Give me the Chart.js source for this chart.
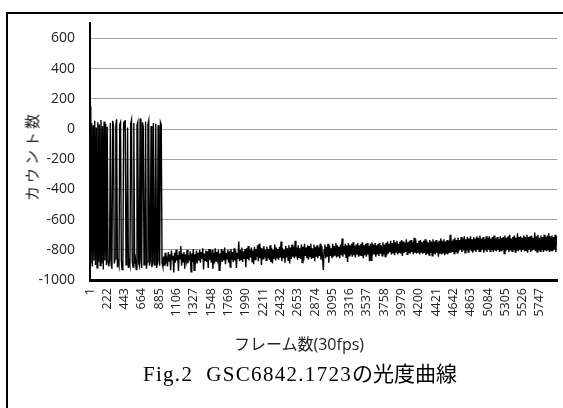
<!DOCTYPE html>
<html><head><meta charset="utf-8">
<script src="https://cdn.jsdelivr.net/npm/chart.js@4"></script>
<style>
html,body{margin:0;padding:0;background:#fff;width:563px;height:408px;overflow:hidden;position:relative}
#frame{position:absolute;left:6px;top:12px;width:700px;height:500px;border-top:2px solid #000;border-left:2px solid #000;box-sizing:border-box}
#wrap{position:absolute;left:0;top:0;width:563px;height:408px}
.t{position:absolute;white-space:nowrap;color:#000;line-height:1}
#ytitle{left:31px;top:156px;transform:translate(-50%,-50%) rotate(-90deg);font:15px "Noto Sans CJK JP",sans-serif;letter-spacing:3px;color:#222}
#xtitle{left:299px;top:343px;transform:translate(-50%,-50%);font:16px "Open Sans","Noto Sans CJK JP",sans-serif;color:#222}
#caption{left:300px;top:372px;transform:translate(-50%,-50%);font:21px "Liberation Serif","Noto Sans CJK JP",serif}
#caption .lat{letter-spacing:1.3px}
</style></head><body>
<div id="frame"></div>
<div id="wrap"><canvas id="c" width="563" height="408"></canvas></div>
<div class="t" id="ytitle">カウント数</div>
<div class="t" id="xtitle">フレーム数(30fps)</div>
<div class="t" id="caption"><span class="lat">Fig.2&nbsp;&nbsp;GSC6842.1723</span>の光度曲線</div>
<script>
const FRAME_STEP = 10;
const counts = [
150,-890,40,-910,25,-870,55,-900,10,-920,
45,-880,30,-905,60,-890,20,-930,50,-870,
35,-900,15,-880,-910,-865,40,-895,-925,55,
20,-890,-860,25,65,-915,-880,-905,30,45,
-870,-930,-885,50,20,60,-900,-865,10,-920,
-880,-905,35,60,-875,-915,40,-890,-860,-930,
25,45,-885,-905,70,-870,-920,45,15,-900,
-865,50,-925,-880,30,55,-905,-870,20,-915,
-885,40,-900,-875,35,-920,-890,25,-870,-905,
45,30,-885,-910,-845,-905,-820,-880,-860,-910,
-815,-875,-830,-935,-805,-865,-840,-950,-820,-885,
-800,-870,-835,-940,-810,-860,-775,-905,-825,-880,
-815,-925,-830,-870,-800,-890,-845,-860,-810,-945,
-825,-880,-795,-935,-830,-865,-805,-890,-820,-870,
-800,-885,-815,-860,-790,-930,-825,-870,-805,-880,
-810,-920,-795,-865,-830,-885,-800,-925,-820,-890,
-790,-875,-815,-860,-800,-935,-825,-865,-795,-880,
-805,-870,-785,-895,-820,-860,-800,-885,-810,-915,
-795,-865,-815,-880,-790,-870,-805,-920,-820,-860,
-745,-875,-800,-865,-785,-880,-810,-860,-795,-915,
-790,-860,-775,-870,-800,-850,-785,-880,-805,-895,
-780,-865,-795,-845,-770,-875,-760,-855,-785,-900,
-790,-860,-775,-850,-800,-870,-780,-855,-795,-865,
-770,-880,-790,-890,-800,-860,-765,-870,-785,-855,
-795,-865,-780,-850,-745,-875,-790,-855,-800,-885,
-775,-850,-790,-870,-770,-890,-785,-860,-765,-845,
-780,-855,-740,-845,-785,-865,-770,-850,-790,-860,
-765,-885,-780,-870,-760,-840,-785,-855,-770,-865,
-775,-845,-760,-860,-790,-850,-765,-875,-780,-845,
-770,-855,-785,-840,-760,-865,-775,-850,-934,-800,
-765,-855,-780,-845,-760,-885,-775,-840,-790,-855,
-760,-845,-775,-835,-755,-850,-770,-840,-780,-855,
-765,-835,-725,-845,-775,-830,-760,-850,-770,-880,
-755,-840,-770,-830,-760,-845,-750,-835,-775,-850,
-765,-830,-755,-845,-770,-835,-760,-840,-750,-855,
-770,-835,-760,-845,-755,-830,-775,-875,-760,-870,
-750,-835,-765,-825,-755,-845,-770,-830,-760,-840,
-755,-825,-770,-840,-750,-830,-765,-845,-755,-835,
-745,-825,-760,-815,-740,-830,-755,-820,-735,-835,
-750,-815,-740,-830,-760,-820,-745,-825,-735,-840,
-745,-820,-755,-815,-730,-830,-750,-820,-740,-825,
-735,-815,-750,-830,-720,-820,-730,-825,-755,-815,
-740,-830,-735,-815,-750,-825,-740,-820,-730,-835,
-740,-825,-750,-835,-735,-820,-745,-840,-730,-825,
-745,-830,-735,-820,-750,-845,-740,-825,-725,-830,
-740,-820,-730,-835,-745,-825,-735,-830,-740,-820,
-700,-820,-740,-815,-730,-825,-720,-815,-735,-820,
-720,-810,-735,-800,-715,-815,-725,-805,-710,-820,
-730,-805,-715,-815,-725,-800,-710,-810,-730,-820,
-715,-805,-725,-815,-710,-800,-720,-810,-705,-815,
-725,-800,-715,-820,-730,-805,-710,-815,-720,-800,
-710,-810,-725,-800,-715,-815,-705,-805,-725,-810,
-715,-800,-730,-815,-710,-805,-720,-800,-715,-825,
-705,-810,-720,-800,-710,-815,-700,-805,-725,-810,
-715,-800,-705,-815,-720,-805,-690,-810,-715,-800,
-710,-815,-720,-800,-705,-810,-715,-805,-700,-820,
-715,-800,-710,-815,-705,-805,-720,-800,-685,-810,
-710,-815,-700,-805,-720,-810,-705,-800,-715,-815,
-700,-805,-715,-810,-705,-800,-690,-815,-710,-805,
-705,-810,-715,-800,-700,-815,-710
];
const frames = counts.map((_, i) => 1 + i * FRAME_STEP);
const xTickLabels = [1,222,443,664,885,1106,1327,1548,1769,1990,2211,2432,2653,2874,3095,3316,3537,3758,3979,4200,4421,4642,4863,5084,5305,5526,5747];
const yTickValues = [-1000,-800,-600,-400,-200,0,200,400,600];
const X_MIN = 1, X_MAX = 5968, Y_MIN = -1000, Y_MAX = 700;

new Chart(document.getElementById('c'), {
  type: 'line',
  data: { datasets: [{
    data: frames.map((f, i) => ({ x: f, y: counts[i] })),
    borderColor: '#000', borderWidth: 1.4, pointRadius: 0, tension: 0, fill: false
  }]},
  options: {
    responsive: false, animation: false,
    layout: { padding: { top: 22, right: 3, left: 0, bottom: 0 } },
    plugins: { legend: { display: false }, tooltip: { enabled: false } },
    scales: {
      x: {
        type: 'linear', min: X_MIN, max: X_MAX,
        afterBuildTicks: s => { s.ticks = xTickLabels.map(v => ({ value: v })); },
        afterFit: s => { s.height = 128; },
        grid: { display: false, drawTicks: false },
        border: { color: '#000', width: 3 },
        ticks: { autoSkip: false, minRotation: 90, maxRotation: 90, padding: 8,
          font: { family: 'Open Sans', size: 12.5 }, color: '#222', callback: v => String(v) }
      },
      y: {
        min: Y_MIN, max: Y_MAX,
        afterBuildTicks: s => { s.ticks = yTickValues.map(v => ({ value: v })); },
        afterFit: s => { s.width = 90; },
        grid: { color: '#a0a0a0', lineWidth: 1, drawTicks: false },
        border: { color: '#000', width: 2 },
        ticks: { padding: 15, font: { family: 'Open Sans', size: 14 }, color: '#222', callback: v => String(v) }
      }
    }
  }
});
</script>
</body></html>
